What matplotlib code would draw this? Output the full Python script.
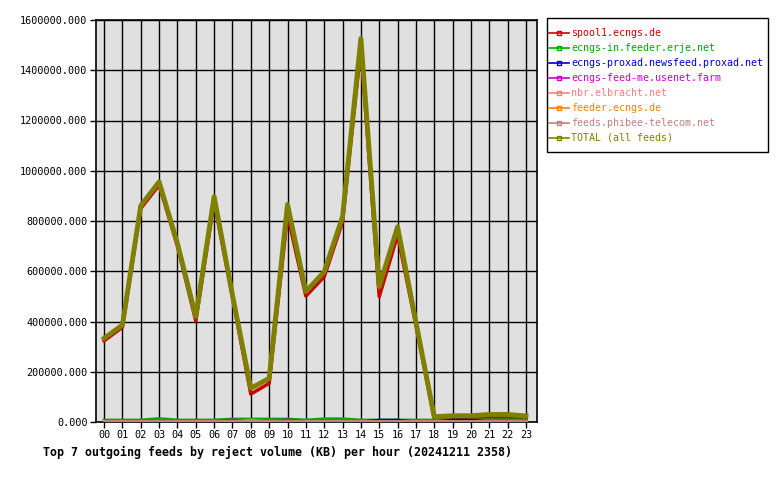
import matplotlib
matplotlib.use("Agg")
import matplotlib.pyplot as plt
from matplotlib.lines import Line2D
from matplotlib.patches import Rectangle

hours = ["00","01","02","03","04","05","06","07","08","09","10","11",
         "12","13","14","15","16","17","18","19","20","21","22","23"]

spool1 = [323000, 377000, 850000, 943000, 700000, 402000, 877000, 495000, 111000, 154000,
          824000, 501000, 578000, 797000, 1490000, 499000, 744000, 385000, 10000, 12000,
          12000, 17000, 17000, 12000]
ecngs_in = [8000, 8000, 8000, 14000, 8000, 8000, 8000, 12000, 12000, 12000, 12000, 8000,
            13000, 13000, 8000, 8000, 8000, 8000, 8000, 8000, 8000, 9000, 9000, 9000]
proxad = [2000, 2000, 2000, 2000, 2000, 2000, 2000, 2000, 2000, 2000, 2000, 2000,
          2000, 2000, 2000, 9000, 9000, 2000, 2000, 9000, 9000, 2000, 2000, 2000]
feedme = [3000, 3000, 3000, 3000, 3000, 3000, 3000, 10000, 3000, 3000, 10000, 3000,
          3000, 3000, 3000, 3000, 3000, 3000, 3000, 3000, 3000, 3000, 3000, 3000]
elbracht = [4000] * 24
feeder = [2000, 2000, 2000, 2000, 2000, 2000, 2000, 2000, 9000, 2000, 2000, 2000,
          2000, 2000, 2000, 2000, 2000, 2000, 2000, 2000, 2000, 2000, 2000, 2000]
phibee = [3000] * 24
total = [333000, 386000, 861000, 956000, 711000, 419000, 897000, 505000, 134000, 174000,
         866000, 519000, 598000, 817000, 1527000, 539000, 777000, 398000, 21000, 25000,
         25000, 30000, 30000, 24000]

series = [
    ("spool1.ecngs.de", spool1, "#cc0000", 2.5),
    ("ecngs-in.feeder.erje.net", ecngs_in, "#00aa00", 2.0),
    ("ecngs-proxad.newsfeed.proxad.net", proxad, "#0000cc", 1.5),
    ("ecngs-feed-me.usenet.farm", feedme, "#cc00cc", 1.5),
    ("nbr.elbracht.net", elbracht, "#f08080", 2.0),
    ("feeder.ecngs.de", feeder, "#ff8000", 1.5),
    ("feeds.phibee-telecom.net", phibee, "#c08080", 2.0),
    ("TOTAL (all feeds)", total, "#808000", 3.5),
]

plt.rcParams['font.family'] = ['DejaVu Sans Mono']
fig = plt.figure(figsize=(7.8, 4.8), dpi=100)
ax = fig.add_axes([96/780, 58/480, 441/780, 402/480])
ax.set_facecolor("#e0e0e0")
x = list(range(len(hours)))
for name, vals, col, lw in series:
    ax.plot(x, vals, color=col, lw=lw, label=name, zorder=3)

ax.set_xlim(-0.44, 23.6)
ax.set_ylim(0, 1600000)
ax.set_xticks(x)
ax.set_xticklabels(hours, fontsize=7.3)
ax.set_yticks(range(0, 1600001, 200000))
ax.set_yticklabels([f"{v:.3f}" for v in range(0, 1600001, 200000)], fontsize=7.3)
ax.grid(True, color="black", lw=1.0, zorder=1)
ax.set_axisbelow(True)
ax.tick_params(length=4, width=1, color="black", pad=2)
for s in ax.spines.values():
    s.set_linewidth(1.2)

# legend frame
fig.patches.append(Rectangle((547/780, 1 - 152/480), 221/780, 134/480,
                             transform=fig.transFigure, facecolor="white",
                             edgecolor="black", lw=1.0, zorder=0))
leg_handles = [Line2D([0], [0], color=c, lw=1.2, marker="s", markersize=2.5,
                      markerfacecolor="none", markeredgecolor=c) for _, _, c, _ in series]
leg = fig.legend(leg_handles, [n for n, _, _, _ in series], loc="upper left",
                 bbox_to_anchor=(549/780, 1 - 28/480), fontsize=7.2, frameon=False,
                 handlelength=2.0, handletextpad=0.2, borderpad=0.0,
                 labelspacing=0.5, borderaxespad=0)
for t, (_, _, c, _) in zip(leg.get_texts(), series):
    t.set_color(c)

fig.text(43/780, 1 - 452/480, "Top 7 outgoing feeds by reject volume (KB) per hour (20241211 2358)",
         fontsize=8.4, fontweight="bold", ha="left", va="center")
fig.savefig("out.png", dpi=100)
